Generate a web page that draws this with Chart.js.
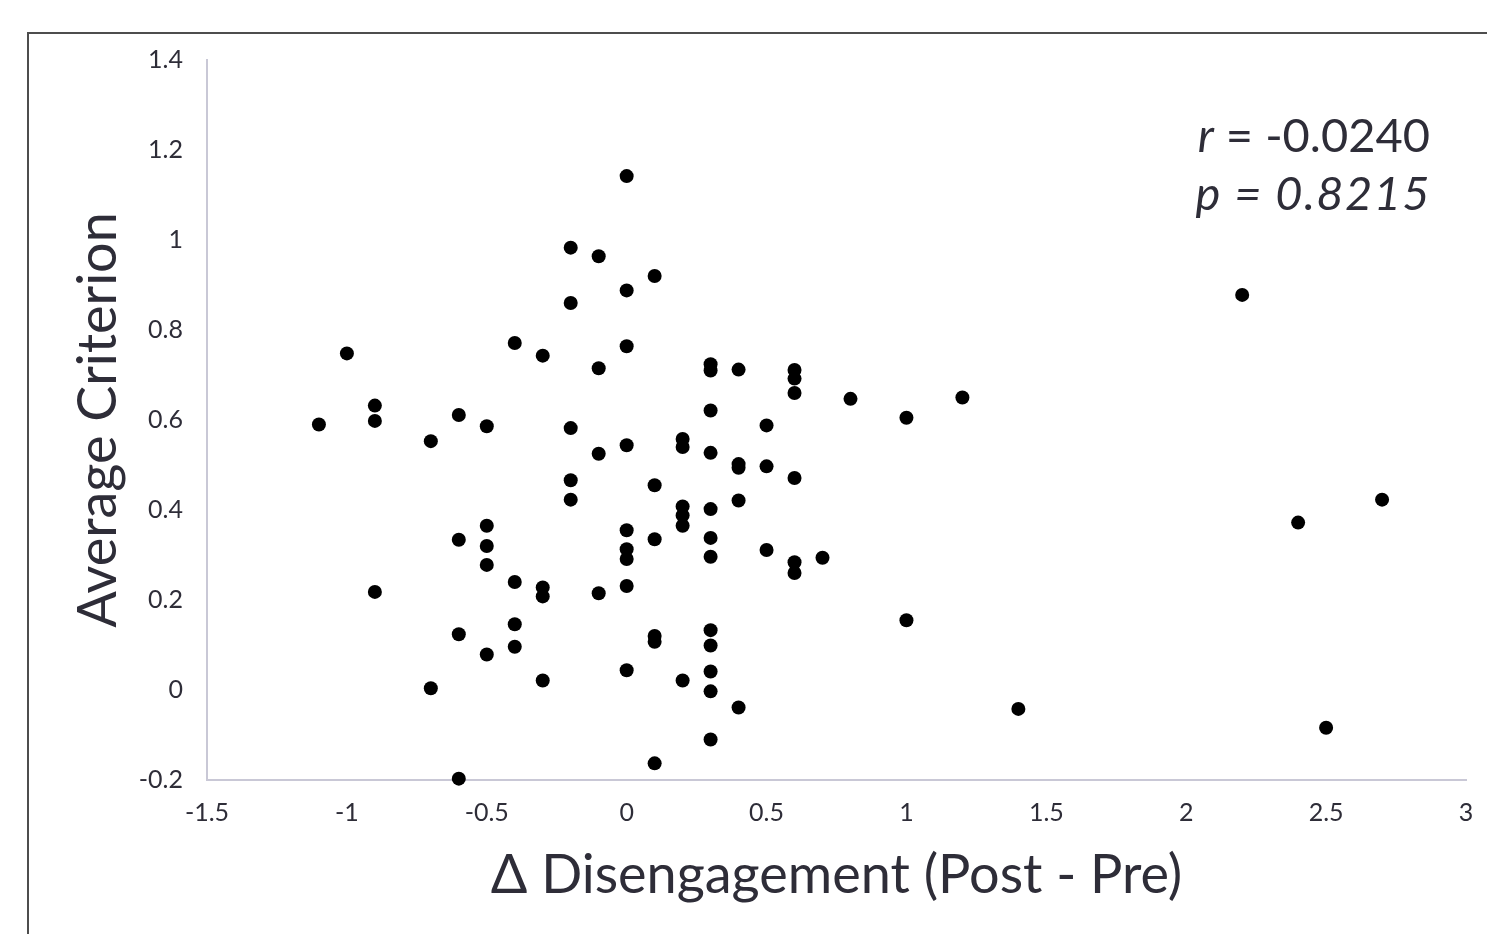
<!DOCTYPE html>
<html>
<head>
<meta charset="utf-8">
<script src="https://cdn.jsdelivr.net/npm/chart.js@4.4.0/dist/chart.umd.min.js"></script>
<style>
  html, body { margin: 0; padding: 0; background: #fff; overflow: hidden; }
  #wrap { position: relative; width: 1487px; height: 934px; }
  #frame {
    position: absolute; left: 27px; top: 32px; width: 1500px; height: 1000px;
    border-left: 2px solid #4d4d4d; border-top: 2px solid #4d4d4d;
  }
  canvas { position: absolute; left: 0; top: 0; }
</style>
</head>
<body>
<div id="wrap">
  <div id="frame"></div>
  <canvas id="chart" width="1487" height="934"></canvas>
</div>
<script>
// Streudiagramm: Werte
const xValues = [
  -1.1, -1.0, -0.9, -0.9, -0.9, -0.7, -0.7, -0.6, -0.6, -0.6,
  -0.6, -0.5, -0.5, -0.5, -0.5, -0.5, -0.4, -0.4, -0.4, -0.4,
  -0.3, -0.3, -0.3, -0.3, -0.2, -0.2, -0.2, -0.2, -0.2, -0.1,
  -0.1, -0.1, -0.1, 0, 0, 0, 0, 0, 0, 0,
  0, 0, 0.1, 0.1, 0.1, 0.1, 0.1, 0.1, 0.2, 0.2,
  0.2, 0.2, 0.2, 0.2, 0.3, 0.3, 0.3, 0.3, 0.3, 0.3,
  0.3, 0.3, 0.3, 0.3, 0.3, 0.3, 0.4, 0.4, 0.4, 0.4,
  0.4, 0.5, 0.5, 0.5, 0.6, 0.6, 0.6, 0.6, 0.6, 0.6,
  0.7, 0.8, 1.0, 1.0, 1.2, 1.4, 2.2, 2.4, 2.5, 2.7
];
const yValues = [
  0.590, 0.748, 0.632, 0.598, 0.218, 0.553, 0.004, 0.611, 0.334, 0.124,
  -0.197, 0.586, 0.365, 0.320, 0.278, 0.079, 0.771, 0.240, 0.146, 0.096,
  0.743, 0.228, 0.208, 0.021, 0.983, 0.860, 0.582, 0.466, 0.423, 0.964,
  0.715, 0.525, 0.215, 1.142, 0.888, 0.764, 0.544, 0.355, 0.313, 0.291,
  0.231, 0.044, 0.920, 0.455, 0.335, 0.120, 0.107, -0.163, 0.558, 0.540,
  0.408, 0.388, 0.365, 0.021, 0.724, 0.710, 0.621, 0.527, 0.402, 0.338,
  0.296, 0.133, 0.099, 0.041, -0.003, -0.110, 0.712, 0.502, 0.494, 0.421,
  -0.039, 0.588, 0.497, 0.311, 0.711, 0.692, 0.660, 0.471, 0.284, 0.260,
  0.294, 0.647, 0.605, 0.155, 0.650, -0.042, 0.878, 0.372, -0.084, 0.423
];

// Achsen
const xTicks = [-1.5, -1, -0.5, 0, 0.5, 1, 1.5, 2, 2.5, 3];
const xTickLabels = ['-1.5', '-1', '-0.5', '0', '0.5', '1', '1.5', '2', '2.5', '3'];
const yTicks = [-0.2, 0, 0.2, 0.4, 0.6, 0.8, 1, 1.2, 1.4];
const yTickLabels = ['-0.2', '0', '0.2', '0.4', '0.6', '0.8', '1', '1.2', '1.4'];

const xTitle = 'Δ Disengagement (Post - Pre)';
const yTitle = 'Average Criterion';
const rText = '-0.0240';
const pText = '0.8215';

const textColor = '#2e2d38';
const axisColor = '#c9c8d6';
const fontFamily = 'Lato, "Noto Sans", sans-serif';

const points = xValues.map((x, i) => ({ x: x, y: yValues[i] }));

// r- und p-Wert oben rechts
const statsPlugin = {
  id: 'stats',
  afterDraw(chart) {
    const c = chart.ctx;
    const right = 1430;
    c.save();
    c.fillStyle = textColor;
    c.textAlign = 'right';
    c.textBaseline = 'alphabetic';
    c.font = '47px ' + fontFamily;
    const rest = ' = ' + rText;
    c.fillText(rest, right, 152);
    const w = c.measureText(rest).width;
    c.font = 'italic 47px ' + fontFamily;
    c.fillText('r', right - w, 152);
    c.letterSpacing = '1.4px';
    c.fillText('p = ' + pText, right + 1, 210);
    c.restore();
  }
};

const ctx = document.getElementById('chart').getContext('2d');
const chart = new Chart(ctx, {
  type: 'scatter',
  data: {
    datasets: [{
      data: points,
      backgroundColor: '#000',
      borderColor: '#000',
      pointRadius: 7,
      pointBorderWidth: 0,
      pointHoverRadius: 7,
      clip: false
    }]
  },
  options: {
    responsive: false,
    animation: false,
    events: [],
    layout: { padding: { left: 0, top: 60, right: 21, bottom: 0 } },
    plugins: { legend: { display: false }, tooltip: { enabled: false } },
    scales: {
      x: {
        type: 'linear',
        min: -1.5,
        max: 3,
        afterBuildTicks: (s) => { s.ticks = xTicks.map(v => ({ value: v })); },
        afterFit: (s) => { s.height = 154; s.paddingLeft = 0; s.paddingRight = 0; },
        grid: { display: false, drawTicks: false },
        border: { display: true, color: axisColor, width: 2 },
        ticks: {
          padding: 18,
          color: textColor,
          font: { family: fontFamily, size: 25 },
          maxRotation: 0,
          callback: (v, i) => xTickLabels[i]
        },
        title: {
          display: true,
          text: xTitle,
          color: textColor,
          font: { family: fontFamily, size: 54 },
          padding: { top: 26, bottom: 26 }
        }
      },
      y: {
        type: 'linear',
        min: -0.2,
        max: 1.4,
        afterBuildTicks: (s) => { s.ticks = yTicks.map(v => ({ value: v })); },
        afterFit: (s) => { s.width = 207; s.paddingTop = 0; s.paddingBottom = 0; },
        grid: { display: false, drawTicks: false },
        border: { display: true, color: axisColor, width: 2 },
        ticks: {
          padding: 24,
          color: textColor,
          font: { family: fontFamily, size: 25 },
          callback: (v, i) => yTickLabels[i]
        },
        title: {
          display: true,
          text: yTitle,
          color: textColor,
          font: { family: fontFamily, size: 54 },
          padding: { top: 66, bottom: 66 }
        }
      }
    }
  },
  plugins: [statsPlugin]
});
</script>
</body>
</html>
